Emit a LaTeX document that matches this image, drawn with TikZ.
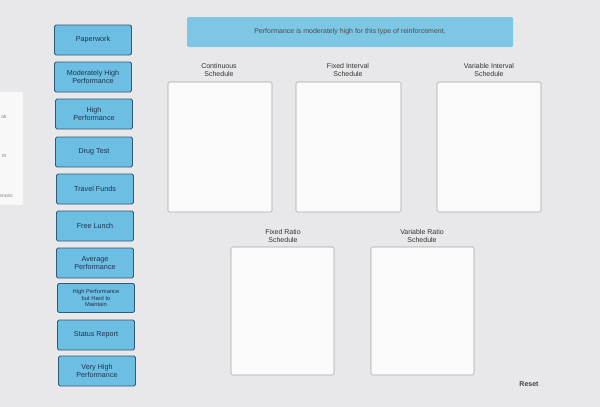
\documentclass[tikz,border=0pt]{standalone}
\usepackage{fontspec}
\setmainfont{Liberation Sans}
\definecolor{btnfill}{RGB}{108,190,226}
\definecolor{btndraw}{RGB}{50,90,120}
\definecolor{btntext}{RGB}{30,50,80}
\definecolor{banner}{RGB}{125,198,228}
\definecolor{bg}{RGB}{232,232,234}
\begin{document}
\begin{tikzpicture}[x=1pt,y=-1pt,
 btn/.style={draw=btndraw,fill=btnfill,rounded corners=1.5pt,line width=0.8pt,minimum width=77pt,minimum height=30pt,align=center,font=\fontsize{7.2}{8.3}\selectfont,text=btntext},
 slot/.style={draw=gray!70,fill=white!96!gray,rounded corners=1.5pt,line width=0.6pt},
 hdr/.style={align=center,font=\fontsize{7}{8}\selectfont,text=black!80}]
\fill[bg] (0,0) rectangle (600,407);
\useasboundingbox (0,0) rectangle (600,407);
\fill[white!70!bg,rounded corners=2pt] (-5,92) rectangle (23,205);
\node[font=\fontsize{5}{5}\selectfont,text=gray] (s1) at (4,117) {ok};
\node[font=\fontsize{5}{5}\selectfont,text=gray] (s2) at (4,156) {nt};
\node[font=\fontsize{5}{5}\selectfont,text=gray] (s3) at (6,196) {ences};
\node[btn] (b1) at (93,40) {Paperwork};
\node[btn] (b2) at (93,77) {Moderately High\\Performance};
\node[btn] (b3) at (94,114) {High\\Performance};
\node[btn] (b4) at (94,152) {Drug Test};
\node[btn] (b5) at (95,189) {Travel Funds};
\node[btn] (b6) at (95,226) {Free Lunch};
\node[btn] (b7) at (95,263) {Average\\Performance};
\node[btn,font=\fontsize{5.8}{6.5}\selectfont,minimum height=29pt] (b8) at (96,298) {High Performance\\but Hard to\\Maintain};
\node[btn] (b9) at (96,335) {Status Report};
\node[btn] (b10) at (97,371) {Very High\\Performance};
\node[fill=banner,rounded corners=1.5pt,minimum width=326pt,minimum height=30pt,font=\fontsize{7}{8}\selectfont,text=black!70] (top) at (350,32) {Performance is moderately high for this type of reinforcement.};
\node[hdr] (h1) at (219,70) {Continuous\\Schedule};
\node[hdr] (h2) at (348,70) {Fixed Interval\\Schedule};
\node[hdr] (h3) at (489,70) {Variable Interval\\Schedule};
\draw[slot] (168,82) rectangle (272,212);
\draw[slot] (296,82) rectangle (401,212);
\draw[slot] (437,82) rectangle (541,212);
\node[hdr] (h4) at (283,236) {Fixed Ratio\\Schedule};
\node[hdr] (h5) at (422,236) {Variable Ratio\\Schedule};
\draw[slot] (231,247) rectangle (334,375);
\draw[slot] (371,247) rectangle (474,375);
\node[font=\bfseries\fontsize{7}{8}\selectfont,text=black!75] (reset) at (529,384) {Reset};
\end{tikzpicture}
\end{document}
